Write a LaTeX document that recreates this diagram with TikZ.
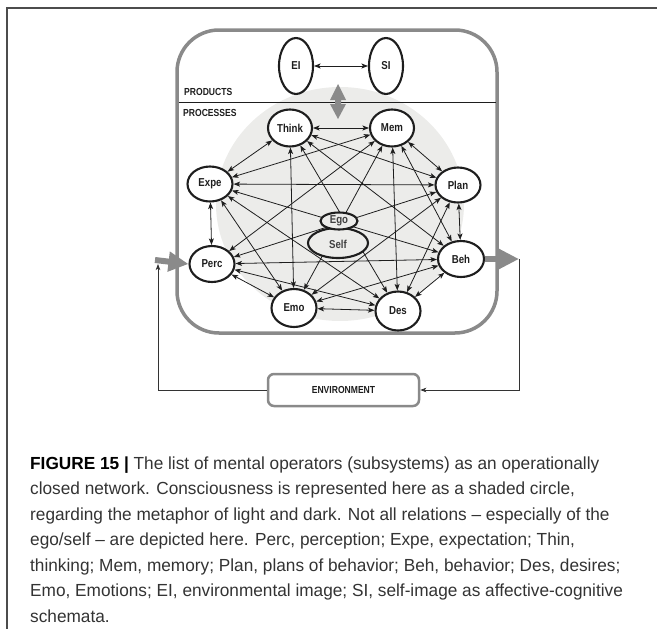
\documentclass[tikz,border=0pt]{standalone}
\usepackage{fontspec}
\setmainfont{Liberation Sans}
\newfontfamily\labelfont[FakeStretch=0.84]{Liberation Sans}
\newfontfamily\capfont[FakeStretch=0.985]{Liberation Sans}
\usetikzlibrary{shapes.geometric,arrows.meta}
\definecolor{ink}{HTML}{1E1E1E}
\definecolor{frame}{HTML}{8A8A8A}
\definecolor{disc}{HTML}{ECECEA}
\definecolor{captext}{HTML}{333333}
\begin{document}
\begin{tikzpicture}[x=1pt,y=-1pt,
  proc/.style={ellipse, draw=ink, line width=2.1pt, fill=white, inner sep=0pt,
    font=\labelfont\bfseries\fontsize{11.5}{12}\selectfont, text=ink},
  core/.style={proc, fill=disc, text=black!75},
  link/.style={{Stealth[length=6.5pt,width=5pt,inset=1.6pt]}-{Stealth[length=6.5pt,width=5pt,inset=1.6pt]},
    line width=0.8pt, draw=ink},
  feed/.style={-{Stealth[length=6pt,width=4.5pt,inset=1.5pt]}, line width=0.8pt, draw=black!80},
  bigarrow/.style={draw=frame, line width=6pt, -{Triangle[length=20pt,width=19pt]}},
  heading/.style={font=\labelfont\bfseries\fontsize{10.2}{11}\selectfont, text=ink, inner sep=0pt},
  capline/.style={anchor=base west, inner sep=0pt, text=captext,
    font=\capfont\fontsize{17.5}{20}\selectfont}
]
\useasboundingbox (0,0) rectangle (657,629);

% page frame
\draw[black!70, line width=1.2pt] (7,629) -- (7,8) -- (657,8);

% consciousness disc
\fill[disc] (340,204) ellipse [x radius=124, y radius=117];

% system boundary
\draw[frame, line width=3.5pt, rounded corners=42pt] (177,30) rectangle (497,333);

% products / processes divider
\draw[ink, line width=0.9pt] (178.5,102) -- (495.5,102);
\node[heading, anchor=west] (prodlabel) at (184,92) {PRODUCTS};
\node[heading, anchor=west] (proclabel) at (183,113) {PROCESSES};

% exchange between the two layers
\fill[frame] (338,84) -- (346,100) -- (341,100) -- (341,104) -- (346,104) -- (338,119)
  -- (330,104) -- (335,104) -- (335,100) -- (330,100) -- cycle;

% products
\node[proc, minimum width=34pt, minimum height=56pt] (EI) at (296,66) {EI};
\node[proc, minimum width=34pt, minimum height=56pt] (SI) at (386,66) {SI};
\draw[link] (EI) -- (SI);

% mental operators
\node[proc, minimum width=44pt, minimum height=37pt] (Think) at (290,128) {Think};
\node[proc, minimum width=44pt, minimum height=37pt] (Mem)   at (392,128) {Mem};
\node[proc, minimum width=45pt, minimum height=35pt] (Expe)  at (210,184) {Expe};
\node[proc, minimum width=45pt, minimum height=35pt] (Plan)  at (458,185) {Plan};
\node[proc, minimum width=45pt, minimum height=36pt] (Perc)  at (212,264) {Perc};
\node[proc, minimum width=46pt, minimum height=36pt] (Beh)   at (461,259) {Beh};
\node[proc, minimum width=45pt, minimum height=38pt] (Emo)   at (294,308) {Emo};
\node[proc, minimum width=45pt, minimum height=39pt] (Des)   at (398,311) {Des};

% relations between the operators
\foreach \a/\b in {Think/Mem, Think/Expe, Think/Plan, Think/Beh, Think/Emo, Think/Des,
                   Mem/Expe, Mem/Plan, Mem/Perc, Mem/Beh, Mem/Emo, Mem/Des,
                   Expe/Plan, Expe/Perc, Expe/Beh, Expe/Emo, Expe/Des,
                   Plan/Perc, Plan/Beh, Plan/Emo, Plan/Des,
                   Perc/Beh, Perc/Emo, Perc/Des,
                   Beh/Emo, Beh/Des,
                   Emo/Des}
  \draw[link] (\a) -- (\b);

% ego and self in the centre
\node[core, minimum width=60pt, minimum height=30pt, text depth=0pt] (Self) at (338,243) {\raisebox{-2pt}{Self}};
\node[core, minimum width=37pt, minimum height=17pt] (Ego) at (339,221) {Ego};

% environment loop
\node[draw=frame, line width=2.5pt, rounded corners=6pt, fill=white,
      minimum width=151pt, minimum height=32pt, inner sep=0pt,
      font=\labelfont\bfseries\fontsize{10.2}{11}\selectfont, text=ink] (Env) at (343.5,390) {ENVIRONMENT};
\coordinate (inl) at (155,260);
\coordinate (inb) at (158,264);
\coordinate (outr) at (519,259);
\draw[bigarrow] (inl) -- (Perc.west);
\draw[bigarrow] (Beh.east) -- (outr);
\draw[feed] (outr) |- (Env.east);
\draw[feed] (Env.west) -| (inb);

% caption
\node[capline] (c1) at (30,469) {\textbf{\color{black}FIGURE 15 |} The list of mental operators (subsystems) as an operationally};
\node[capline] (c2) at (30,494.5) {closed network. Consciousness is represented here as a shaded circle,};
\node[capline] (c3) at (30,520) {regarding the metaphor of light and dark. Not all relations – especially of the};
\node[capline] (c4) at (30,545.5) {ego/self – are depicted here. Perc, perception; Expe, expectation; Thin,};
\node[capline] (c5) at (30,571) {thinking; Mem, memory; Plan, plans of behavior; Beh, behavior; Des, desires;};
\node[capline] (c6) at (30,596.5) {Emo, Emotions; EI, environmental image; SI, self-image as affective-cognitive};
\node[capline] (c7) at (30,622) {schemata.};
\end{tikzpicture}
\end{document}
